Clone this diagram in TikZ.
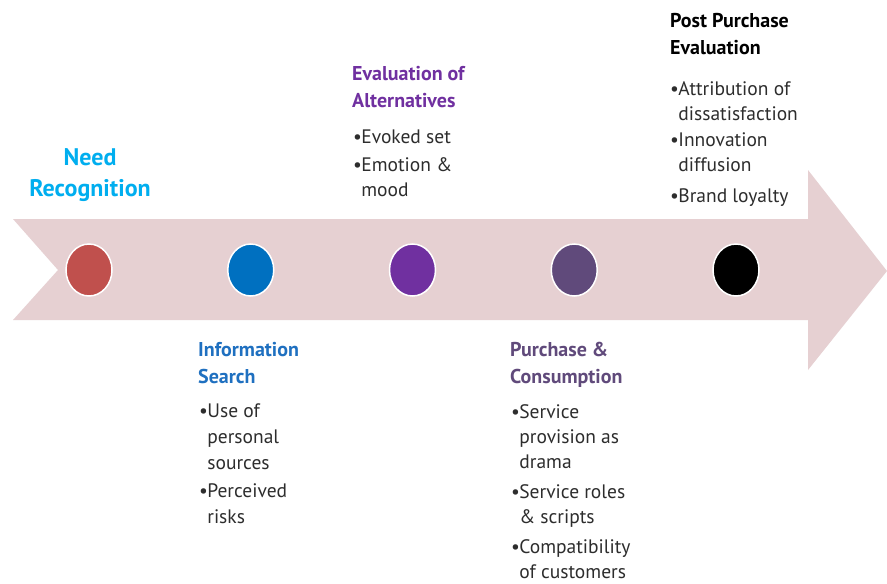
\documentclass[tikz,border=0pt]{standalone}
\usepackage{fontspec}
\setmainfont{PT Sans}
\usetikzlibrary{shapes.geometric}
\definecolor{arrowpink}{RGB}{230,208,210}
\definecolor{needblue}{RGB}{0,174,239}
\definecolor{searchblue}{RGB}{31,112,192}
\definecolor{evalpurple}{RGB}{112,48,160}
\definecolor{buypurple}{RGB}{96,74,123}
\definecolor{dotred}{RGB}{192,80,77}
\definecolor{dotblue}{RGB}{0,112,192}
\definecolor{bodygray}{RGB}{45,45,45}
\newcommand{\itm}{\makebox[0.42em][l]{\textbullet}}
\newcommand{\ind}{\hspace*{0.42em}}
\begin{document}
\begin{tikzpicture}[x=1pt, y=-1pt, node distance=161.75pt,
  dot/.style={ellipse, draw=white, line width=1.5pt, minimum width=46pt, minimum height=52pt, inner sep=0pt},
  stage/.style={anchor=north west, inner sep=0pt, align=left, font=\bfseries\fontsize{20}{27}\selectfont},
  items/.style={anchor=north west, inner sep=0pt, align=left, text=bodygray, font=\fontsize{19.5}{25}\selectfont}]
\useasboundingbox (0,0) rectangle (887,584);
\fill[white] (0,0) rectangle (887,584);
\fill[arrowpink] (13,219) -- (808,219) -- (808,170) -- (887,271) -- (808,370) -- (808,320) -- (13,320) -- (58,270) -- cycle;
\node[dot, fill=dotred] (need) at (89,270) {};
\node[dot, fill=dotblue, right of=need] (search) {};
\node[dot, fill=evalpurple, right of=search] (alt) {};
\node[dot, fill=buypurple, right of=alt] (buy) {};
\node[dot, fill=black, right of=buy] (post) {};
\node[anchor=north, inner sep=0pt, align=center, text=needblue, font=\bfseries\fontsize{24}{31}\selectfont] (needT) at (90,148) {Need\\Recognition};
\node[stage, text=searchblue] (searchT) at (198,342) {Information\\Search};
\node[items] (searchL) at (199,404) {\itm Use of\\[1pt]\ind personal\\[1pt]\ind sources\\[3pt]\itm Perceived\\[1pt]\ind risks};
\node[stage, text=evalpurple] (altT) at (352,66) {Evaluation of\\Alternatives};
\node[items] (altL) at (353,130) {\itm Evoked set\\[3pt]\itm Emotion \&\\\ind mood};
\node[stage, text=buypurple] (buyT) at (510,342) {Purchase \&\\Consumption};
\node[items] (buyL) at (511,404) {\itm Service\\\ind provision as\\\ind drama\\[5pt]\itm Service roles\\\ind \& scripts\\[5pt]\itm Compatibility\\\ind of customers};
\node[stage, text=black] (postT) at (670,13) {Post Purchase\\Evaluation};
\node[items] (postL) at (670,81) {\itm Attribution of\\\ind dissatisfaction\\[1pt]\itm Innovation\\\ind diffusion\\[6pt]\itm Brand loyalty};
\end{tikzpicture}
\end{document}
